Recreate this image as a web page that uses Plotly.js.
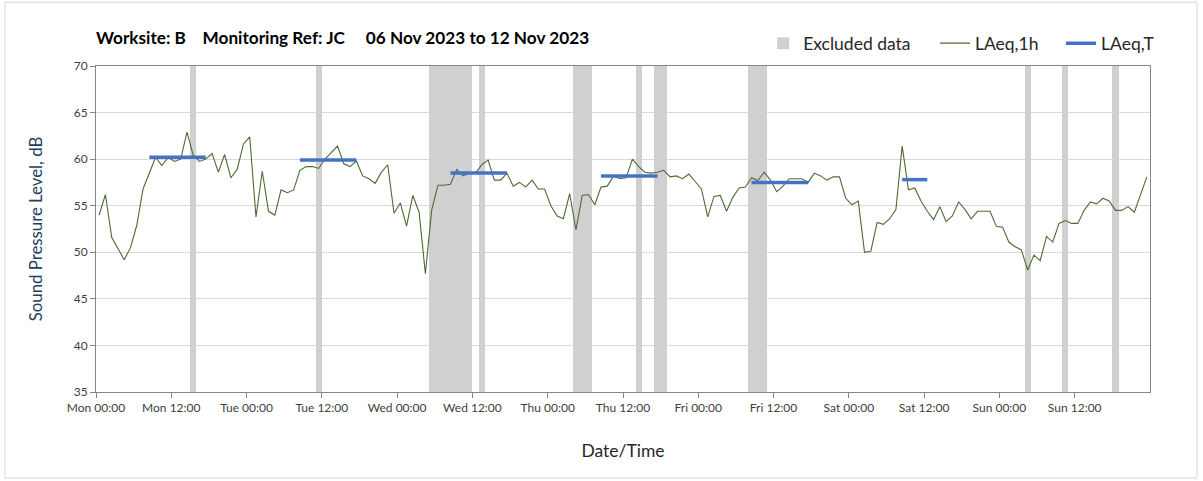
<!DOCTYPE html>
<html>
<head>
<meta charset="utf-8">
<script src="https://cdn.plot.ly/plotly-3.0.1.min.js"></script>
<style>
  body { margin: 0; background: #fff; }
  #chart { width: 1203px; height: 481px; }
</style>
</head>
<body>
<div id="chart"></div>
<script>
// hourly LAeq,1h values, Mon 00:00 to Sun 24:00 (168 hours)
const laeq1h = [
    54.0, 56.2, 51.6, 50.4, 49.2, 50.5, 52.9, 56.8, 58.5, 60.2, 59.3, 60.2, 59.75, 60.0,
    62.9, 60.4, 59.75, 60.0, 60.6, 58.6, 60.5, 58.0, 58.9, 61.6, 62.4, 53.8, 58.7, 54.4,
    54.0, 56.7, 56.4, 56.7, 58.8, 59.2, 59.2, 59.0, 60.0, 60.7, 61.4, 59.5, 59.2, 59.8,
    58.2, 57.9, 57.4, 58.6, 59.4, 54.2, 55.3, 52.8, 56.1, 54.3, 47.7, 54.5, 57.2, 57.2,
    57.3, 58.9, 58.2, 58.5, 58.5, 59.4, 59.9, 57.75, 57.75, 58.5, 57.1, 57.5, 57.0, 57.75,
    56.8, 56.8, 55.0, 53.9, 53.6, 56.3, 52.4, 56.1, 56.2, 55.1, 57.0, 57.1, 58.2, 57.9,
    58.0, 60.0, 59.2, 58.6, 58.5, 58.6, 58.8, 58.1, 58.2, 57.9, 58.4, 57.6, 56.8, 53.8,
    56.0, 56.1, 54.4, 55.9, 56.9, 57.0, 58.0, 57.7, 58.6, 57.75, 56.5, 57.1, 57.9, 57.9,
    57.9, 57.5, 58.5, 58.2, 57.75, 58.1, 58.1, 55.8, 55.1, 55.5, 50.0, 50.1, 53.2, 53.0,
    53.6, 54.6, 61.4, 56.7, 56.9, 55.5, 54.4, 53.5, 54.9, 53.3, 53.9, 55.4, 54.6, 53.6,
    54.4, 54.4, 54.4, 52.8, 52.7, 51.1, 50.6, 50.25, 48.1, 49.7, 49.1, 51.7, 51.1, 53.1,
    53.4, 53.1, 53.1, 54.5, 55.4, 55.2, 55.8, 55.5, 54.5, 54.5, 54.9, 54.3, 56.1, 58.1
];

// excluded data periods (hours from Mon 00:00)
const excludedStart = [15, 35, 53, 61, 76, 86, 89, 104, 148, 154, 162];
const excludedEnd = [16, 36, 60, 62, 79, 87, 91, 107, 149, 155, 163];

// LAeq,T periods (hours from Mon 00:00) and levels
const periodStart = [8, 32, 56, 80, 104, 128];
const periodEnd = [18, 42, 66, 90, 114, 133];
const laeqT = [60.2, 59.9, 58.5, 58.2, 57.5, 57.8];

const days = ['Mon', 'Tue', 'Wed', 'Thu', 'Fri', 'Sat', 'Sun'];
const clockLabels = ['00:00', '12:00'];

const fontFamily = 'Lato, "Open Sans", sans-serif';

const tickVals = [];
const tickText = [];
days.forEach((d, i) => {
    clockLabels.forEach((c, j) => {
        tickVals.push(i * 24 + j * 12);
        tickText.push(d + ' ' + c);
    });
});
const dayVals = days.map((d, i) => i * 24);

const hours = laeq1h.map((v, i) => i + 0.5);

const excludedTrace = {
    type: 'bar',
    name: 'Excluded data',
    legend: 'legend',
    x: excludedStart.map((s, i) => (s + excludedEnd[i]) / 2),
    width: excludedStart.map((s, i) => excludedEnd[i] - s),
    y: excludedStart.map(() => 35),
    base: 35,
    marker: { color: '#d0d0d0', line: { width: 0 } },
    hoverinfo: 'skip'
};

const lineTrace = {
    type: 'scatter',
    mode: 'lines',
    name: 'LAeq,1h',
    legend: 'legend2',
    x: hours,
    y: laeq1h,
    line: { color: '#4f6b34', width: 1.1 }
};

const tX = [];
const tY = [];
laeqT.forEach((v, i) => {
    tX.push(periodStart[i] + 0.5, periodEnd[i] - 0.5, null);
    tY.push(v, v, null);
});

const periodTrace = {
    type: 'scatter',
    mode: 'lines',
    name: 'LAeq,T',
    legend: 'legend3',
    x: tX,
    y: tY,
    line: { color: '#4472c4', width: 3.5 }
};

// one legend box per entry so the spacing can follow the original
function legendAt(x) {
    return {
        orientation: 'h',
        x: x,
        xanchor: 'left',
        y: 1.125,
        yanchor: 'top',
        font: { family: fontFamily, size: 17.5, color: '#262626' },
        itemwidth: 30,
        bgcolor: 'rgba(0,0,0,0)'
    };
}

const layout = {
    width: 1203,
    height: 481,
    margin: { l: 96, r: 53, t: 66, b: 89 },
    paper_bgcolor: '#ffffff',
    plot_bgcolor: '#ffffff',
    font: { family: fontFamily, color: '#404040' },
    showlegend: true,
    bargap: 0,
    title: {
        text: '<b>Worksite: B\u00a0\u00a0\u00a0\u00a0Monitoring Ref: JC\u00a0\u00a0\u00a0\u00a0\u00a006 Nov 2023 to 12 Nov 2023</b>',
        font: { family: fontFamily, size: 17.2, color: '#000000' },
        xref: 'paper',
        x: 0,
        xanchor: 'left',
        y: 0.921,
        yanchor: 'middle'
    },
    legend: legendAt(0.633),
    legend2: legendAt(0.796),
    legend3: legendAt(0.9156),
    xaxis: {
        range: [0, 168],
        tickmode: 'array',
        tickvals: tickVals,
        ticktext: tickText,
        tickfont: { size: 12, color: '#404040' },
        ticks: 'outside',
        ticklen: 5,
        tickcolor: '#868686',
        showgrid: false,
        showline: true,
        linecolor: '#868686',
        linewidth: 1,
        mirror: true,
        zeroline: false,
        title: {
            text: 'Date/Time',
            font: { family: fontFamily, size: 17.5, color: '#262626' },
            standoff: 30
        }
    },
    xaxis2: {
        overlaying: 'x',
        anchor: 'y',
        range: [0, 168],
        tickmode: 'array',
        tickvals: dayVals,
        showticklabels: false,
        ticks: '',
        showgrid: true,
        gridcolor: '#d9d9d9',
        gridwidth: 1,
        showline: false,
        zeroline: false
    },
    yaxis: {
        range: [35, 70],
        dtick: 5,
        tickfont: { size: 12, color: '#404040' },
        ticks: 'outside',
        ticklen: 5,
        tickcolor: '#868686',
        showgrid: true,
        gridcolor: '#d9d9d9',
        gridwidth: 1,
        showline: true,
        linecolor: '#868686',
        linewidth: 1,
        mirror: true,
        zeroline: false,
        title: {
            text: 'Sound Pressure Level, dB',
            font: { family: fontFamily, size: 16.8, color: '#243f60' },
            standoff: 26
        }
    },
    shapes: [{
        type: 'rect',
        xref: 'paper',
        yref: 'paper',
        x0: -0.0864,
        x1: 1.0446,
        y0: -0.264,
        y1: 1.196,
        line: { color: '#d9d9d9', width: 1 },
        layer: 'below'
    }]
};

Plotly.newPlot('chart', [excludedTrace, lineTrace, periodTrace], layout, { displayModeBar: false, staticPlot: true });
</script>
</body>
</html>
